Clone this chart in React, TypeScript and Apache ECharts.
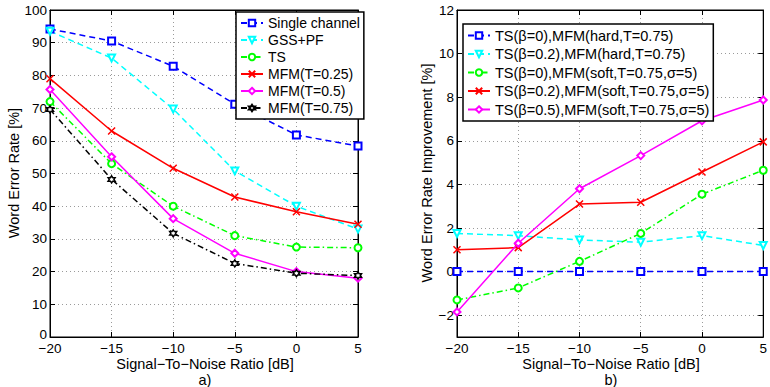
import React, { useEffect, useRef } from 'react';
import * as echarts from 'echarts';

const snr = [-20, -15, -10, -5, 0, 5];
const xTicks = [-20, -15, -10, -5, 0, 5];
const leftYTicks = [0, 10, 20, 30, 40, 50, 60, 70, 80, 90, 100];
const rightYTicks = [-2, 0, 2, 4, 6, 8, 10, 12];

// chart a) Word Error Rate [%]
const singleChannel = [94.2, 90.5, 82.8, 71.2, 61.8, 58.4];
const gssPf = [93.5, 85.3, 69.7, 50.8, 40.0, 33.0];
const tsOnly = [72.0, 53.0, 40.0, 31.0, 27.5, 27.3];
const mfm025 = [79.0, 63.0, 51.6, 42.8, 38.3, 34.5];
const mfm05 = [75.7, 55.1, 36.2, 25.6, 20.0, 18.0];
const mfm075 = [69.6, 48.2, 31.7, 22.5, 19.5, 18.8];

// chart b) Word Error Rate Improvement [%]
const impHard0 = [0, 0, 0, 0, 0, 0];
const impHard02 = [1.75, 1.65, 1.45, 1.35, 1.65, 1.2];
const impSoft0 = [-1.3, -0.75, 0.47, 1.75, 3.55, 4.65];
const impSoft02 = [1.0, 1.1, 3.1, 3.18, 4.57, 5.95];
const impSoft05 = [-1.85, 1.3, 3.8, 5.32, 6.92, 7.87];

const leftNames = ['Single channel', 'GSS+PF', 'TS', 'MFM(T=0.25)', 'MFM(T=0.5)', 'MFM(T=0.75)'];
const rightNames = [
  'TS(β=0),MFM(hard,T=0.75)',
  'TS(β=0.2),MFM(hard,T=0.75)',
  'TS(β=0),MFM(soft,T=0.75,σ=5)',
  'TS(β=0.2),MFM(soft,T=0.75,σ=5)',
  'TS(β=0.5),MFM(soft,T=0.75,σ=5)',
];

const FONT = '"Liberation Sans", Arial, Helvetica, sans-serif';
const TICK_FS = 13.5;

function hexagramPath(): string {
  const pts: string[] = [];
  for (let k = 0; k < 12; k++) {
    const ang = (-90 + k * 30) * Math.PI / 180;
    const r = k % 2 === 0 ? 1 : 0.577;
    const x = (1 + r * Math.cos(ang)) * 10;
    const y = (1 + r * Math.sin(ang)) * 10;
    pts.push((k === 0 ? 'M' : 'L') + x.toFixed(2) + ',' + y.toFixed(2));
  }
  return 'path://' + pts.join('') + 'Z';
}
const X_SYMBOL = 'path://M0,0L10,10M0,10L10,0';
const HEX_SYMBOL = hexagramPath();

const DASH = [6, 4];
const DASHDOT = [6, 3, 1.5, 3];

const fmtNum = (v: number) => String(v).replace('-', '\u2212');
const fmtLeftY = (v: number) => (v === 0 ? '{z|0}' : fmtNum(v));

function mkSeries(name: string, data: number[], color: string, dash: any, symbol: string, xi: number, yi: number, opts: any = {}) {
  return {
    type: 'line',
    name,
    xAxisIndex: xi,
    yAxisIndex: yi,
    data: snr.map((x, i) => [x, data[i]]),
    symbol,
    symbolSize: 7,
    symbolRotate: opts.rotate || 0,
    showSymbol: true,
    lineStyle: { color, width: 1.5, type: dash },
    itemStyle: opts.itemStyle || { color, borderColor: color, borderWidth: 1.5 },
    emphasis: { disabled: true },
    z: opts.z || 2,
  };
}

function xAxisPair(gridIndex: number) {
  return [
    {
      type: 'value', gridIndex, min: -20, max: 5, interval: 5, position: 'bottom',
      axisLine: { show: true, onZero: false, lineStyle: { color: '#000', width: 1 } },
      axisTick: { show: true, inside: true, length: 5, lineStyle: { color: '#000' } },
      axisLabel: { color: '#000', fontSize: TICK_FS, fontFamily: FONT, margin: 4, formatter: fmtNum },
      splitLine: { show: true, lineStyle: { color: '#9a9a9a', type: [1, 3], width: 1 } },
    },
    {
      type: 'value', gridIndex, min: -20, max: 5, interval: 5, position: 'top',
      axisLine: { show: true, onZero: false, lineStyle: { color: '#000', width: 1 } },
      axisTick: { show: true, inside: true, length: 5, lineStyle: { color: '#000' } },
      axisLabel: { show: false },
      splitLine: { show: false },
    },
  ];
}

function legendCfg(left: number, top: number, names: string[], fontSize: number, lineHeight: number, gap: number) {
  return {
    left, top, orient: 'vertical',
    backgroundColor: '#fff', borderColor: '#000', borderWidth: 1.5, borderRadius: 0,
    padding: [4, 4, 4, 4], itemGap: gap, itemWidth: 22, itemHeight: 8,
    textStyle: { fontSize, fontFamily: FONT, color: '#000', lineHeight },
    selectedMode: false,
    data: names,
  };
}

export default function App() {
  const ref = useRef<HTMLDivElement>(null);
  useEffect(() => {
    if (!ref.current) return;
    const chart = echarts.init(ref.current, undefined, { renderer: 'svg' });
    const hexItem = { color: '#fff', borderColor: '#000', borderWidth: 1.5 };
    const option: any = {
      animation: false,
      backgroundColor: '#fff',
      grid: [
        { left: 50, right: 412, top: 10, bottom: 50, show: true, borderColor: '#000', borderWidth: 1, backgroundColor: '#fff' },
        { left: 457, right: 5, top: 10, bottom: 50, show: true, borderColor: '#000', borderWidth: 1, backgroundColor: '#fff' },
      ],
      xAxis: [...xAxisPair(0), ...xAxisPair(1)],
      yAxis: [
        {
          type: 'value', gridIndex: 0, min: 0, max: 100, interval: 10, position: 'left',
          axisLine: { show: true, onZero: false, lineStyle: { color: '#000', width: 1 } },
          axisTick: { show: true, inside: true, length: 5, lineStyle: { color: '#000' } },
          axisLabel: {
            color: '#000', fontSize: TICK_FS, fontFamily: FONT, margin: 3, formatter: fmtLeftY,
            rich: { z: { color: '#000', fontSize: TICK_FS, fontFamily: FONT, padding: [0, 0, 6, 0] } },
          },
          splitLine: { show: true, lineStyle: { color: '#9a9a9a', type: [1, 3], width: 1 } },
        },
        {
          type: 'value', gridIndex: 0, min: 0, max: 100, interval: 10, position: 'right',
          axisLine: { show: true, onZero: false, lineStyle: { color: '#000', width: 1 } },
          axisTick: { show: true, inside: true, length: 5, lineStyle: { color: '#000' } },
          axisLabel: { show: false },
          splitLine: { show: false },
        },
        {
          type: 'value', gridIndex: 1, min: -3, max: 12, position: 'left',
          axisLine: { show: true, onZero: false, lineStyle: { color: '#000', width: 1 } },
          axisTick: { show: true, inside: true, length: 5, lineStyle: { color: '#000' }, customValues: rightYTicks },
          axisLabel: { color: '#000', fontSize: TICK_FS, fontFamily: FONT, margin: 3, formatter: fmtNum, customValues: rightYTicks },
          splitLine: { show: true, lineStyle: { color: '#9a9a9a', type: [1, 3], width: 1 } },
        },
        {
          type: 'value', gridIndex: 1, min: -3, max: 12, position: 'right',
          axisLine: { show: true, onZero: false, lineStyle: { color: '#000', width: 1 } },
          axisTick: { show: true, inside: true, length: 5, lineStyle: { color: '#000' }, customValues: rightYTicks },
          axisLabel: { show: false },
          splitLine: { show: false },
        },
      ],
      legend: [
        legendCfg(236, 12, leftNames, 14, 14, 3),
        legendCfg(463, 24, rightNames, 14.5, 15, 3.5),
      ],
      series: [
        mkSeries(leftNames[0], singleChannel, '#0000ff', DASH, 'emptyRect', 0, 0),
        mkSeries(leftNames[1], gssPf, '#00ffff', DASH, 'emptyTriangle', 0, 0, { rotate: 180 }),
        mkSeries(leftNames[2], tsOnly, '#00ff00', DASHDOT, 'emptyCircle', 0, 0),
        mkSeries(leftNames[3], mfm025, '#ff0000', 'solid', X_SYMBOL, 0, 0),
        mkSeries(leftNames[4], mfm05, '#ff00ff', 'solid', 'emptyDiamond', 0, 0),
        mkSeries(leftNames[5], mfm075, '#000000', DASHDOT, HEX_SYMBOL, 0, 0, { itemStyle: hexItem }),
        mkSeries(rightNames[0], impHard0, '#0000ff', DASH, 'emptyRect', 2, 2),
        mkSeries(rightNames[1], impHard02, '#00ffff', DASH, 'emptyTriangle', 2, 2, { rotate: 180 }),
        mkSeries(rightNames[2], impSoft0, '#00ff00', DASHDOT, 'emptyCircle', 2, 2),
        mkSeries(rightNames[3], impSoft02, '#ff0000', 'solid', X_SYMBOL, 2, 2),
        mkSeries(rightNames[4], impSoft05, '#ff00ff', 'solid', 'emptyDiamond', 2, 2),
      ],
      graphic: [
        { type: 'text', x: 14, y: 173, rotation: Math.PI / 2, style: { text: 'Word Error Rate [%]', fontSize: 14.5, fontFamily: FONT, fill: '#000', textAlign: 'center', textVerticalAlign: 'middle' } },
        { type: 'text', x: 427, y: 173, rotation: Math.PI / 2, style: { text: 'Word Error Rate Improvement [%]', fontSize: 14.5, fontFamily: FONT, fill: '#000', textAlign: 'center', textVerticalAlign: 'middle' } },
        { type: 'text', x: 205, y: 364, style: { text: 'Signal\u2212To\u2212Noise Ratio [dB]', fontSize: 14.5, fontFamily: FONT, fill: '#000', textAlign: 'center', textVerticalAlign: 'middle' } },
        { type: 'text', x: 611, y: 364, style: { text: 'Signal\u2212To\u2212Noise Ratio [dB]', fontSize: 14.5, fontFamily: FONT, fill: '#000', textAlign: 'center', textVerticalAlign: 'middle' } },
        { type: 'text', x: 205, y: 380, style: { text: 'a)', fontSize: 14.5, fontFamily: FONT, fill: '#000', textAlign: 'center', textVerticalAlign: 'middle' } },
        { type: 'text', x: 611, y: 380, style: { text: 'b)', fontSize: 14.5, fontFamily: FONT, fill: '#000', textAlign: 'center', textVerticalAlign: 'middle' } },
      ],
    };
    chart.setOption(option);
    return () => chart.dispose();
  }, []);
  return <div ref={ref} style={{ position: 'fixed', left: 0, top: 0, width: 770, height: 387 }} />;
}
